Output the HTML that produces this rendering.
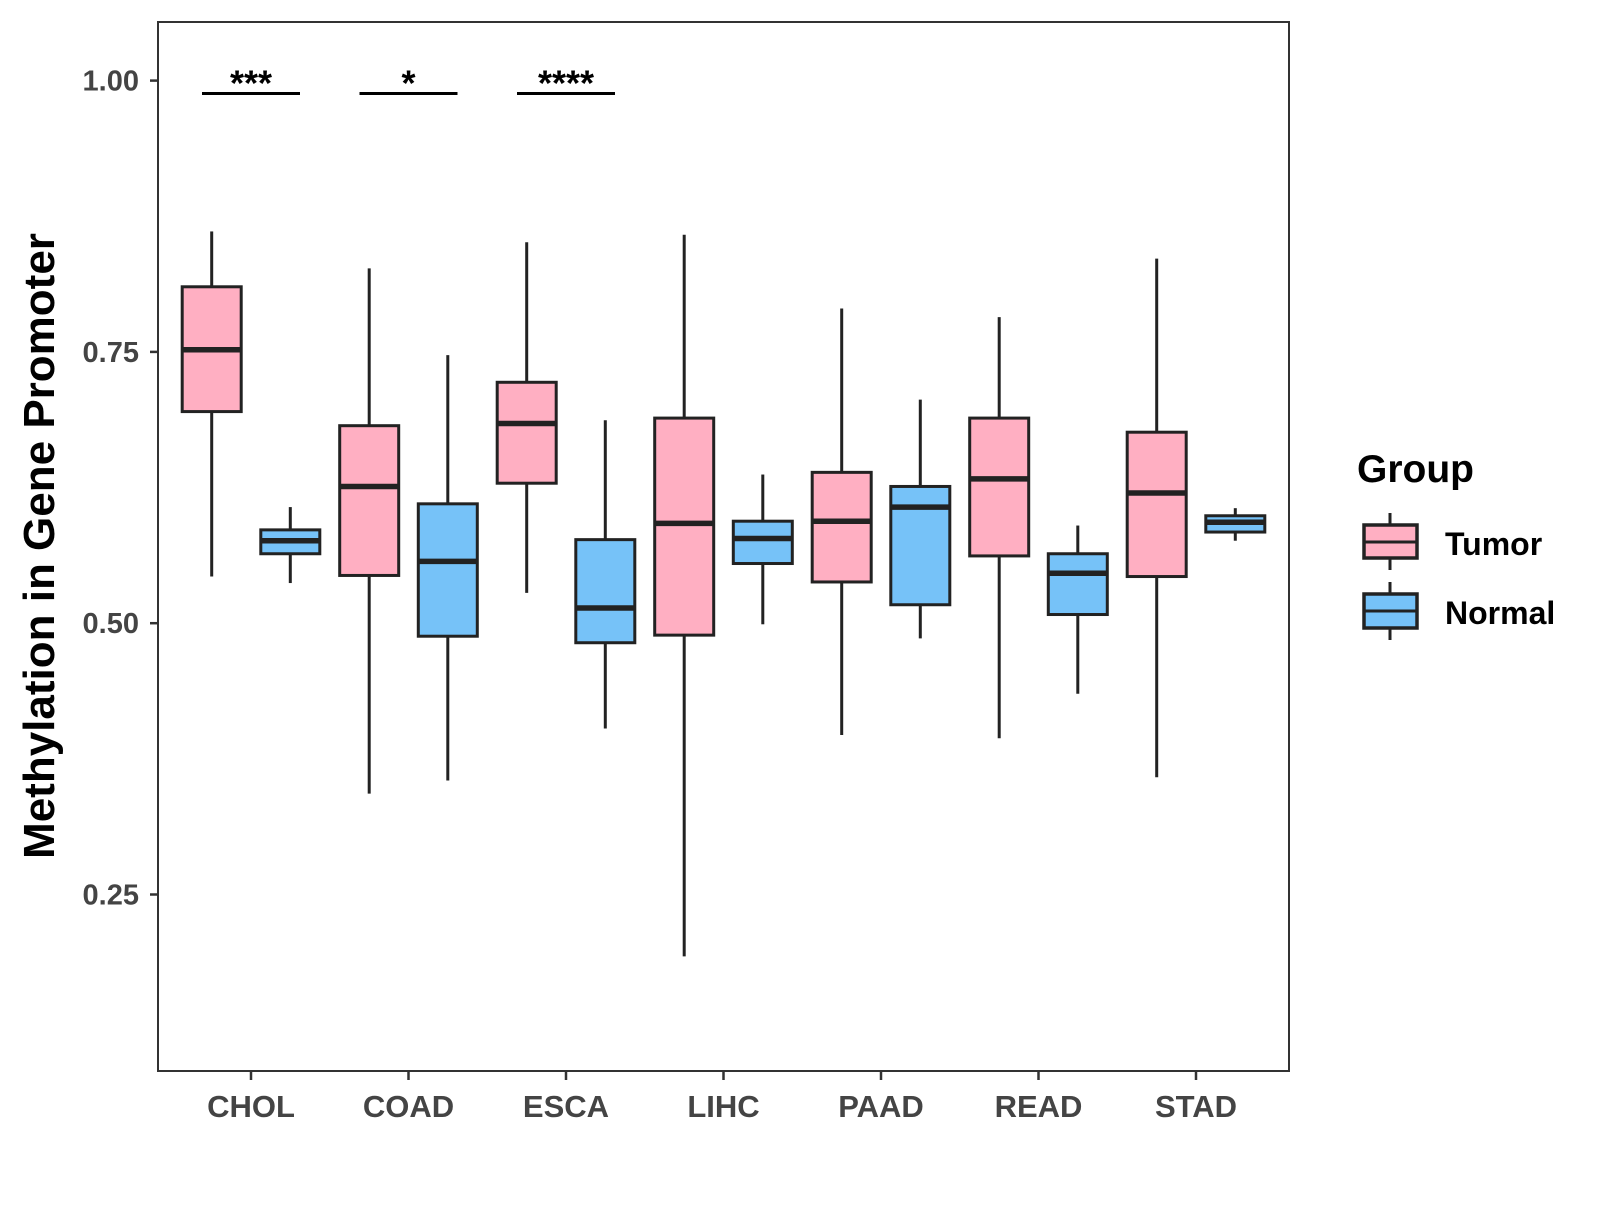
<!DOCTYPE html>
<html><head><meta charset="utf-8"><style>
body{margin:0;background:#fff}
svg text{font-family:"Liberation Sans",Arial,sans-serif;font-weight:bold}
</style></head><body>
<svg id="chart" width="1600" height="1200" viewBox="0 0 1600 1200" xmlns="http://www.w3.org/2000/svg">
<rect x="0" y="0" width="1600" height="1200" fill="#fff"/>
<rect x="158" y="22" width="1131" height="1049" fill="#fff" stroke="#333" stroke-width="2"/>
<g id="yaxis"></g><g id="xaxis"></g><g id="boxes"></g><g id="sig"></g>
<text transform="translate(54,546) rotate(-90)" text-anchor="middle" font-size="44" fill="#000">Methylation in Gene Promoter</text>
<g>
<text x="1357" y="482" font-size="39" fill="#000">Group</text>
<g>
<line x1="1390" x2="1390" y1="513" y2="570" stroke="#222" stroke-width="3"/>
<rect x="1364" y="525" width="53" height="33" fill="#FFAFC2" stroke="#222" stroke-width="3.5"/>
<line x1="1364" x2="1417" y1="542" y2="542" stroke="#222" stroke-width="3"/>
<text x="1445" y="555" font-size="32" fill="#000">Tumor</text></g>
<g>
<line x1="1390" x2="1390" y1="582" y2="640" stroke="#222" stroke-width="3"/>
<rect x="1364" y="594" width="53" height="34" fill="#76C2F8" stroke="#222" stroke-width="3.5"/>
<line x1="1364" x2="1417" y1="611" y2="611" stroke="#222" stroke-width="3"/>
<text x="1445" y="624" font-size="32" fill="#000">Normal</text></g>
</g>
</svg>
<script>
const categories=["CHOL","COAD","ESCA","LIHC","PAAD","READ","STAD"];
const tumorStats=[[0.543,0.695,0.752,0.810,0.861],[0.343,0.544,0.626,0.682,0.827],[0.528,0.629,0.684,0.722,0.851],[0.193,0.489,0.592,0.689,0.858],[0.397,0.538,0.594,0.639,0.790],[0.394,0.562,0.633,0.689,0.782],[0.358,0.543,0.620,0.676,0.836]];
const normalStats=[[0.537,0.564,0.576,0.586,0.607],[0.355,0.488,0.557,0.610,0.747],[0.403,0.482,0.514,0.577,0.687],[0.499,0.555,0.578,0.594,0.637],[0.486,0.517,0.607,0.626,0.706],[0.435,0.508,0.546,0.564,0.590],[0.576,0.584,0.593,0.599,0.606]];
const yTicks=[0.25,0.50,0.75,1.00];
const yTickLabels=["0.25","0.50","0.75","1.00"];
const sigCategories=["CHOL","COAD","ESCA"];
const sigLabels=["***","*","****"];
const sigValue=0.99;
const NS="http://www.w3.org/2000/svg";
function y(v){return 80.6+(1-v)*1085.2;}
function x(i){return 251+i*157.5;}
function mk(t,a,p){const e=document.createElementNS(NS,t);for(const k in a)e.setAttribute(k,a[k]);p.appendChild(e);return e;}
const ya=document.getElementById('yaxis');
yTicks.forEach((v,i)=>{
 const l=mk('line',{x1:150,x2:158,y1:y(v),y2:y(v),stroke:'#333','stroke-width':2.5},ya);
 
 
 const t=mk('text',{x:139,y:y(v)+10,'text-anchor':'end','font-size':29,fill:'#444'},ya);
 t.textContent=yTickLabels[i];
 
 
});
const xa=document.getElementById('xaxis');
categories.forEach((c,i)=>{
 const l=mk('line',{x1:x(i),x2:x(i),y1:1071,y2:1080,stroke:'#333','stroke-width':2.5},xa);
 
 
 const t=mk('text',{x:x(i),y:1117,'text-anchor':'middle','font-size':31,fill:'#444'},xa);
 t.textContent=c;
 
 
});
const bx=document.getElementById('boxes');
function box(cx,s,fill,name){
 const g=mk('g',{},bx);
 
 
 const hw=29.5;
 mk('line',{x1:cx,x2:cx,y1:y(s[4]),y2:y(s[3]),stroke:'#222','stroke-width':3},g);
 mk('line',{x1:cx,x2:cx,y1:y(s[1]),y2:y(s[0]),stroke:'#222','stroke-width':3},g);
 mk('rect',{x:cx-hw,y:y(s[3]),width:hw*2,height:y(s[1])-y(s[3]),fill:fill,stroke:'#222','stroke-width':3},g);
 mk('line',{x1:cx-hw,x2:cx+hw,y1:y(s[2]),y2:y(s[2]),stroke:'#222','stroke-width':5.5},g);
}
categories.forEach((c,i)=>{
 box(x(i)-39.3,tumorStats[i],'#FFAFC2','box-tumor-'+c.toLowerCase());
 box(x(i)+39.3,normalStats[i],'#76C2F8','box-normal-'+c.toLowerCase());
});
const sg=document.getElementById('sig');
sigCategories.forEach((c,j)=>{
 const i=categories.indexOf(c);
 const l=mk('line',{x1:x(i)-49,x2:x(i)+49,y1:y(sigValue)+2,y2:y(sigValue)+2,stroke:'#000','stroke-width':3},sg);
 
 
 const t=mk('text',{x:x(i),y:y(sigValue)+4,'text-anchor':'middle','font-size':36,fill:'#000'},sg);
 t.textContent=sigLabels[j];
 
 
});
</script>
</body></html>
